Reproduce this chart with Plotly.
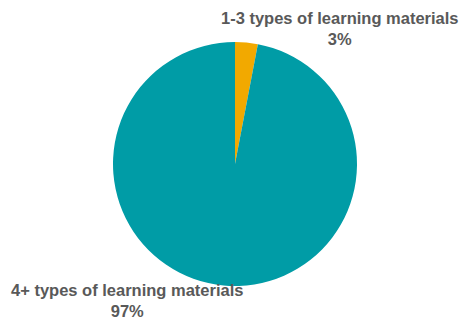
import plotly.graph_objects as go

categories = ["1-3 types of learning materials", "4+ types of learning materials"]
values = [3, 97]
colors = ["#F2A900", "#009CA6"]

total = sum(values)
pcts = [round(v / total * 100) for v in values]

fig = go.Figure(go.Pie(
    labels=categories,
    values=values,
    sort=False,
    direction="clockwise",
    rotation=0,
    textinfo="none",
    hoverinfo="label+percent",
    marker=dict(colors=colors, line=dict(color="white", width=0)),
    domain=dict(x=[113 / 459, 357 / 459], y=[1 - 286 / 321, 1 - 42 / 321]),
    showlegend=False,
))

label_font = dict(family="Liberation Sans, Arial, sans-serif", size=16.5, color="#595959")
label_pos = [(340, 28), (127, 300)]
for name, p, (x, y) in zip(categories, pcts, label_pos):
    fig.add_annotation(
        x=x / 459, y=1 - y / 321, xref="paper", yref="paper",
        text=f"<b>{name}</b><br><b>{p}%</b>",
        showarrow=False, font=label_font, align="center",
        xanchor="center", yanchor="middle",
    )

fig.update_layout(
    width=459, height=321,
    margin=dict(l=0, r=0, t=0, b=0),
    paper_bgcolor="white", plot_bgcolor="white",
)

fig.write_html("out.html")
